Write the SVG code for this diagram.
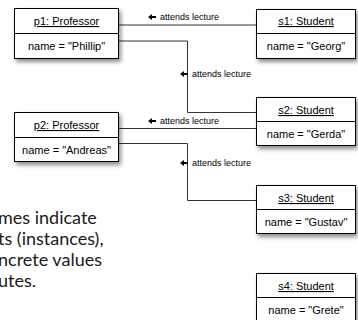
<svg xmlns="http://www.w3.org/2000/svg" width="358" height="320" viewBox="0 0 358 320">
  <style>
    .box { fill: #ffffff; stroke: #000000; stroke-width: 1; }
    .div { stroke: #000000; stroke-width: 1; }
    .hdr { font-family: "Liberation Sans", Arial, sans-serif; font-size: 11px; fill: #000; text-anchor: middle; text-decoration: underline; }
    .att { font-family: "Liberation Sans", Arial, sans-serif; font-size: 11px; fill: #000; text-anchor: middle; }
    .lbl { font-family: "Liberation Sans", Arial, sans-serif; font-size: 9px; fill: #000; }
    .wire { fill: none; stroke: #333333; stroke-width: 1; }
    .note { font-family: "Lato", "Open Sans", sans-serif; font-size: 18px; fill: #1a1a1a; }
  </style>
  <defs>
    <filter id="shadow" x="-20%" y="-20%" width="150%" height="160%">
      <feDropShadow dx="2" dy="3" stdDeviation="2" flood-color="#000" flood-opacity="0.45"/>
    </filter>
    <!-- small filled left-pointing direction arrow used beside association labels -->
    <path id="dir" d="M0,0 L4,-3 L4,-1 L8,-1 L8,1 L4,1 L4,3 Z" fill="#000"/>
  </defs>

  <!-- connectors -->
  <g id="connectors">
    <path class="wire" d="M118,25 H256"/>
    <path class="wire" d="M118,41 H187.5 V112.5 H256"/>
    <path class="wire" d="M118,128.5 H256"/>
    <path class="wire" d="M118,143.5 H187.5 V200.5 H256"/>
    <use href="#dir" x="148" y="17"/>
    <text class="lbl" x="160" y="20">attends lecture</text>
    <use href="#dir" x="180" y="74"/>
    <text class="lbl" x="192" y="77">attends lecture</text>
    <use href="#dir" x="148" y="121"/>
    <text class="lbl" x="160" y="124">attends lecture</text>
    <use href="#dir" x="180" y="163"/>
    <text class="lbl" x="192" y="166">attends lecture</text>
  </g>

  <g id="p1">
    <rect class="box" x="14.5" y="8.5" width="104" height="50" filter="url(#shadow)"/>
    <line class="div" x1="14.5" y1="33.5" x2="118.5" y2="33.5"/>
    <text class="hdr" x="66.5" y="25">p1: Professor</text>
    <text class="att" x="66.5" y="50">name = "Phillip"</text>
  </g>

  <g id="p2">
    <rect class="box" x="14.5" y="112.5" width="104" height="49" filter="url(#shadow)"/>
    <line class="div" x1="14.5" y1="137.5" x2="118.5" y2="137.5"/>
    <text class="hdr" x="66.5" y="129">p2: Professor</text>
    <text class="att" x="66.5" y="154">name = "Andreas"</text>
  </g>

  <g id="s1">
    <rect class="box" x="256.5" y="9.5" width="99" height="49" filter="url(#shadow)"/>
    <line class="div" x1="256.5" y1="33.5" x2="355.5" y2="33.5"/>
    <text class="hdr" x="306" y="25">s1: Student</text>
    <text class="att" x="306" y="50">name = "Georg"</text>
  </g>

  <g id="s2">
    <rect class="box" x="256.5" y="97.5" width="99" height="48" filter="url(#shadow)"/>
    <line class="div" x1="256.5" y1="121.5" x2="355.5" y2="121.5"/>
    <text class="hdr" x="306" y="114">s2: Student</text>
    <text class="att" x="306" y="138">name = "Gerda"</text>
  </g>

  <g id="s3">
    <rect class="box" x="256.5" y="185.5" width="99" height="48" filter="url(#shadow)"/>
    <line class="div" x1="256.5" y1="209.5" x2="355.5" y2="209.5"/>
    <text class="hdr" x="306" y="202">s3: Student</text>
    <text class="att" x="306" y="226">name = "Gustav"</text>
  </g>

  <g id="s4">
    <rect class="box" x="256.5" y="273.5" width="99" height="48" filter="url(#shadow)"/>
    <line class="div" x1="256.5" y1="297.5" x2="355.5" y2="297.5"/>
    <text class="hdr" x="306" y="290">s4: Student</text>
    <text class="att" x="306" y="314">name = "Grete"</text>
  </g>

  <!-- explanatory note, partly outside the left edge -->
  <g id="note">
    <text class="note" x="-2" y="224">mes indicate</text>
    <text class="note" x="-2" y="245">ts (instances),</text>
    <text class="note" x="-2" y="266">ncrete values</text>
    <text class="note" x="-2" y="287">utes.</text>
  </g>
</svg>
